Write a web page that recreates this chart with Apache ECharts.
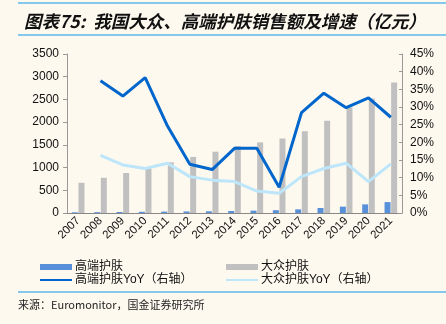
<!DOCTYPE html>
<html><head><meta charset="utf-8">
<script src="https://cdn.jsdelivr.net/npm/echarts@6/dist/echarts.min.js"></script>
<style>html,body{margin:0;padding:0;background:#FDF9EF;}#c{width:446px;height:324px;}</style>
</head><body><div id="c"></div>
<script>
const years = ['2007','2008','2009','2010','2011','2012','2013','2014','2015','2016','2017','2018','2019','2020','2021'];
const premium = [15,18,22,26,30,34,38,44,52,62,80,110,140,190,240];
const mass = [665,775,880,980,1115,1235,1350,1470,1555,1640,1800,2030,2325,2520,2870];
const premiumYoY = [null,37.4,33.1,38.3,24.6,13.8,12.3,18.3,18.3,7.3,28.4,33.9,29.8,32.6,27.1];
const massYoY = [null,16.3,13.6,12.6,14.1,10.3,9.3,8.9,6.2,5.6,10.3,12.6,14.1,8.9,13.9];
const leftTicks = [0,3500,500];
const rightTicks = [0,45,5];

const chart = echarts.init(document.getElementById('c'));
const F = '"Liberation Sans", Arial, sans-serif';
const CJK = '"Liberation Sans","Noto Sans CJK SC", sans-serif';
chart.setOption({
  backgroundColor: '#FDF9EF',
  animation: false,
  title: {
    text: '图表75:  我国大众、高端护肤销售额及增速（亿元）',
    left: 19, top: 8,
    textStyle: {fontFamily: '"Noto Sans CJK SC"', fontStyle: 'italic', fontWeight: 'bold', fontSize: 17.5, color: '#111'}
  },
  graphic: [
    {type: 'line', shape: {x1: 18, y1: 3, x2: 446, y2: 3}, style: {stroke: '#5BB8EC', lineWidth: 1.5}},
    {type: 'line', shape: {x1: 18, y1: 35, x2: 446, y2: 35}, style: {stroke: '#5BB8EC', lineWidth: 1.5}},
    {type: 'line', shape: {x1: 18, y1: 292, x2: 446, y2: 292}, style: {stroke: '#5BB8EC', lineWidth: 1.5}},
    {type: 'text', left: 18, top: 299, style: {text: '来源：Euromonitor，国金证券研究所', font: '11px "Noto Sans CJK SC"', fill: '#222'}}
  ],
  legend: [
    {left: 34, top: 256, orient: 'vertical', itemGap: 1, itemWidth: 32, itemHeight: 6,
     data: [{name: '高端护肤', icon: 'rect'}, {name: '高端护肤YoY（右轴）', itemStyle: {opacity: 0}}],
     textStyle: {fontFamily: CJK, fontSize: 12, color: '#111', padding: [0,0,0,-2]}},
    {left: 220, top: 256, orient: 'vertical', itemGap: 1, itemWidth: 32, itemHeight: 6,
     data: [{name: '大众护肤', icon: 'rect'}, {name: '大众护肤YoY（右轴）', itemStyle: {opacity: 0}}],
     textStyle: {fontFamily: CJK, fontSize: 12, color: '#111', padding: [0,0,0,-2]}}
  ],
  grid: {left: 67, right: 44, top: 54, bottom: 111},
  xAxis: {
    type: 'category', data: years, boundaryGap: true,
    axisLine: {lineStyle: {color: '#888'}},
    axisTick: {alignWithLabel: false, lineStyle: {color: '#888'}, length: 4},
    axisLabel: {rotate: 45, fontFamily: F, fontSize: 11.5, color: '#111', margin: 6, interval: 0}
  },
  yAxis: [
    {type: 'value', min: leftTicks[0], max: leftTicks[1], interval: leftTicks[2],
     axisLine: {show: true, lineStyle: {color: '#999'}}, axisTick: {show: true, length: 4, lineStyle: {color: '#999'}},
     splitLine: {show: false},
     axisLabel: {fontFamily: F, fontSize: 12, color: '#111', margin: 8, formatter: v => String(v)}},
    {type: 'value', min: rightTicks[0], max: rightTicks[1], interval: rightTicks[2], position: 'right',
     axisLine: {show: true, lineStyle: {color: '#999'}}, axisTick: {show: true, inside: true, length: 3, lineStyle: {color: '#999'}},
     splitLine: {show: false},
     axisLabel: {fontFamily: F, fontSize: 12, color: '#111', margin: 8, formatter: '{value}%'}}
  ],
  series: [
    {name: '高端护肤', type: 'bar', data: premium, barWidth: 6, barGap: '10%', itemStyle: {color: '#5890DA'}},
    {name: '大众护肤', type: 'bar', data: mass, barWidth: 6, itemStyle: {color: '#C0C0C0'}},
    {name: '高端护肤YoY（右轴）', type: 'line', yAxisIndex: 1, data: premiumYoY, symbol: 'none',
     lineStyle: {color: '#0066CC', width: 3}, itemStyle: {color: '#0066CC'}},
    {name: '大众护肤YoY（右轴）', type: 'line', yAxisIndex: 1, data: massYoY, symbol: 'none',
     lineStyle: {color: '#BDE6FA', width: 3}, itemStyle: {color: '#BDE6FA'}}
  ]
});
</script></body></html>
